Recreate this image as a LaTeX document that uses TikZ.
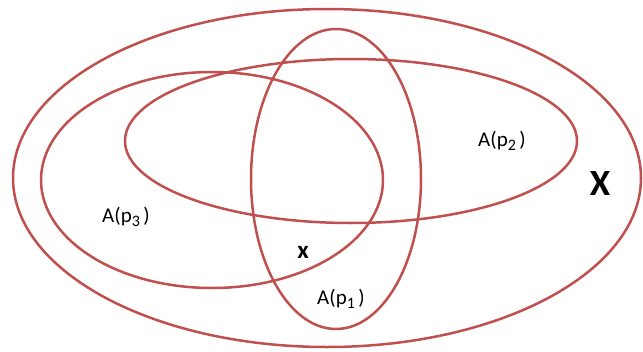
\documentclass[tikz,border=0pt]{standalone}
\usepackage{fontspec}
\setmainfont{Carlito}
\usepackage{tikz}
\usetikzlibrary{positioning}

\begin{document}
\begin{tikzpicture}[
    x=1pt, y=-1pt,
    set/.style={draw=setred, line width=2.5pt},
    lbl/.style={font=\fontsize{21}{21}\selectfont, inner sep=0pt}
]
    \definecolor{setred}{RGB}{192,80,77}
    \useasboundingbox (0,0) rectangle (643,351);

    % space and the three sets
    \draw[set] (327,178) ellipse [x radius=314pt, y radius=169pt];
    \draw[set] (351,141) ellipse [x radius=226pt, y radius=82pt];
    \draw[set] (212,180) ellipse [x radius=171pt, y radius=108pt];
    \draw[set] (336,179) ellipse [x radius=85pt, y radius=150pt];

    \node[lbl] (ap2) at (502,141) {A(p{\fontsize{16}{16}\selectfont\raisebox{-4pt}{2}}\,)};
    \node[lbl] (ap3) at (126,217) {A(p{\fontsize{16}{16}\selectfont\raisebox{-4pt}{3}}\,)};
    \node[lbl] (ap1) at (341,299) {A(p{\fontsize{16}{16}\selectfont\raisebox{-4pt}{1}}\,)};
    \node[lbl, font=\fontsize{25}{25}\selectfont\bfseries] (pt) at (303,252) {x};
    \node[lbl, font=\fontsize{37}{37}\selectfont\bfseries] (space) at (600,184) {X};
\end{tikzpicture}
\end{document}
